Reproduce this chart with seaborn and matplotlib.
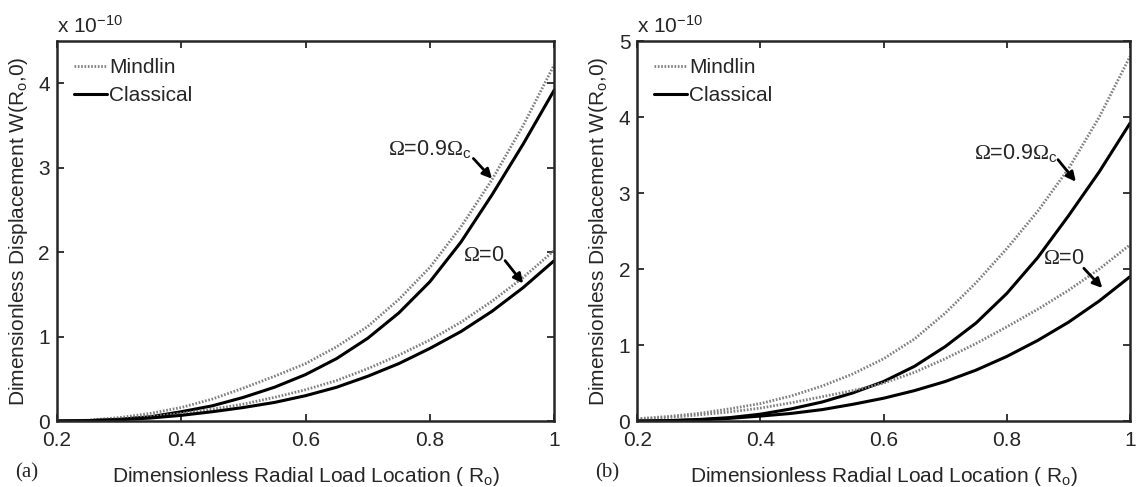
import numpy as np
import pandas as pd
import matplotlib
matplotlib.use("Agg")
import matplotlib.pyplot as plt
import seaborn as sns

# radial load location
r_loc = [0.20, 0.25, 0.30, 0.35, 0.40, 0.45, 0.50, 0.55, 0.60,
         0.65, 0.70, 0.75, 0.80, 0.85, 0.90, 0.95, 1.00]

# panel (a) displacements, units of 1e-10
a_mindlin_09 = [0.00, 0.01, 0.04, 0.09, 0.16, 0.26, 0.39, 0.53, 0.68,
                0.88, 1.12, 1.44, 1.82, 2.30, 2.86, 3.50, 4.22]
a_classic_09 = [0.00, 0.005, 0.02, 0.05, 0.11, 0.18, 0.28, 0.40, 0.55,
                0.74, 0.98, 1.28, 1.65, 2.12, 2.68, 3.28, 3.92]
a_mindlin_0 = [0.00, 0.006, 0.025, 0.05, 0.09, 0.14, 0.20, 0.28, 0.37,
               0.48, 0.62, 0.78, 0.96, 1.17, 1.42, 1.70, 2.02]
a_classic_0 = [0.00, 0.004, 0.015, 0.035, 0.067, 0.11, 0.16, 0.22, 0.30,
               0.40, 0.53, 0.68, 0.86, 1.06, 1.30, 1.58, 1.90]

# panel (b) displacements, units of 1e-10
b_mindlin_09 = [0.03, 0.06, 0.10, 0.16, 0.23, 0.33, 0.46, 0.62, 0.82,
                1.08, 1.42, 1.82, 2.27, 2.76, 3.32, 4.00, 4.80]
b_classic_09 = [0.00, 0.005, 0.02, 0.045, 0.09, 0.16, 0.25, 0.37, 0.52,
                0.72, 0.98, 1.29, 1.68, 2.15, 2.70, 3.28, 3.92]
b_mindlin_0 = [0.02, 0.045, 0.08, 0.12, 0.17, 0.24, 0.32, 0.40, 0.50,
               0.64, 0.82, 1.02, 1.24, 1.47, 1.72, 2.00, 2.32]
b_classic_0 = [0.00, 0.004, 0.015, 0.035, 0.065, 0.10, 0.15, 0.22, 0.30,
               0.40, 0.52, 0.67, 0.85, 1.06, 1.30, 1.58, 1.90]

x_ticks = [0.2, 0.4, 0.6, 0.8, 1.0]
x_tick_labels = ["0.2", "0.4", "0.6", "0.8", "1"]

sns.set_style("ticks")
plt.rcParams['font.family'] = ['Liberation Sans', 'DejaVu Sans']
plt.rcParams['mathtext.fontset'] = 'custom'
plt.rcParams['mathtext.rm'] = 'Liberation Sans'
plt.rcParams['mathtext.it'] = 'Liberation Sans:italic'
plt.rcParams['mathtext.sf'] = 'Liberation Serif'

mindlin_style = dict(color='#808080', linewidth=2.0, linestyle=(0, (0.6, 0.6)))
classic_style = dict(color='black', linewidth=2.2, linestyle='-')

fig = plt.figure(figsize=(11.38, 4.87), dpi=100)
ax_a = fig.add_axes([0.050, 0.1355, 0.437, 0.780])
ax_b = fig.add_axes([0.560, 0.1355, 0.433, 0.780])

panels = [
    (ax_a, a_mindlin_09, a_classic_09, a_mindlin_0, a_classic_0, 4.5, [0, 1, 2, 3, 4], "(a)",
     dict(text09=(0.733, 3.15), tip09=(0.900, 2.87), tail09=(0.870, 3.11),
          text0=(0.854, 1.90), tip0=(0.950, 1.63), tail0=(0.921, 1.90))),
    (ax_b, b_mindlin_09, b_classic_09, b_mindlin_0, b_classic_0, 5.0, [0, 1, 2, 3, 4, 5], "(b)",
     dict(text09=(0.746, 3.45), tip09=(0.912, 3.15), tail09=(0.883, 3.44),
          text0=(0.859, 2.07), tip0=(0.955, 1.75), tail0=(0.925, 2.01))),
]

for ax, m09, c09, m0, c0, ymax, yticks, tag, ann in panels:
    sns.lineplot(x=r_loc, y=m09, ax=ax, **mindlin_style)
    sns.lineplot(x=r_loc, y=c09, ax=ax, **classic_style)
    sns.lineplot(x=r_loc, y=m0, ax=ax, **mindlin_style)
    sns.lineplot(x=r_loc, y=c0, ax=ax, **classic_style)

    ax.set_xlim(0.2, 1.0)
    ax.set_ylim(0, ymax)
    ax.set_xticks(x_ticks)
    ax.set_xticklabels(x_tick_labels)
    ax.set_yticks(yticks)
    ax.set_yticklabels([str(v) for v in yticks])
    ax.tick_params(direction='in', top=True, right=True, length=5, width=1.3,
                   labelsize=15)
    ax.tick_params(axis='x', pad=7)
    ax.tick_params(axis='y', pad=5)
    for sp in ax.spines.values():
        sp.set_linewidth(1.8)
        sp.set_visible(True)

    ax.set_xlabel("Dimensionless Radial Load Location ( R$_{\\rm o}$)", fontsize=15, labelpad=11)
    ax.set_ylabel("Dimensionless Displacement W(R$_{\\rm o}$,0)", fontsize=15, labelpad=6)
    ax.text(0.0, 1.012, "x 10$^{-10}$", transform=ax.transAxes, fontsize=15,
            ha='left', va='bottom')

    lines = ax.get_lines()
    ax.legend([lines[0], lines[1]], ["Mindlin", "Classical"], loc='upper left',
              frameon=False, fontsize=15, handlelength=1.6, handletextpad=0.1,
              borderaxespad=0.4, labelspacing=0.45)

    ax.annotate("", xy=ann['tip09'], xytext=ann['tail09'],
                arrowprops=dict(arrowstyle='-|>', color='black', lw=2.0,
                                mutation_scale=14, shrinkA=0, shrinkB=0))
    ax.text(ann['text09'][0], ann['text09'][1], "$\\mathsf{\\Omega}$=0.9$\\mathsf{\\Omega}_{\\rm c}$",
            fontsize=15.5, ha='left', va='baseline')
    ax.annotate("", xy=ann['tip0'], xytext=ann['tail0'],
                arrowprops=dict(arrowstyle='-|>', color='black', lw=2.0,
                                mutation_scale=14, shrinkA=0, shrinkB=0))
    ax.text(ann['text0'][0], ann['text0'][1], "$\\mathsf{\\Omega}$=0",
            fontsize=15.5, ha='left', va='baseline')

    fig.text(ax.get_position().x0 - 0.037, 0.01, tag, fontsize=15,
             family=['Liberation Serif', 'DejaVu Serif'], ha='left', va='bottom')

fig.savefig("out.png", dpi=100)
